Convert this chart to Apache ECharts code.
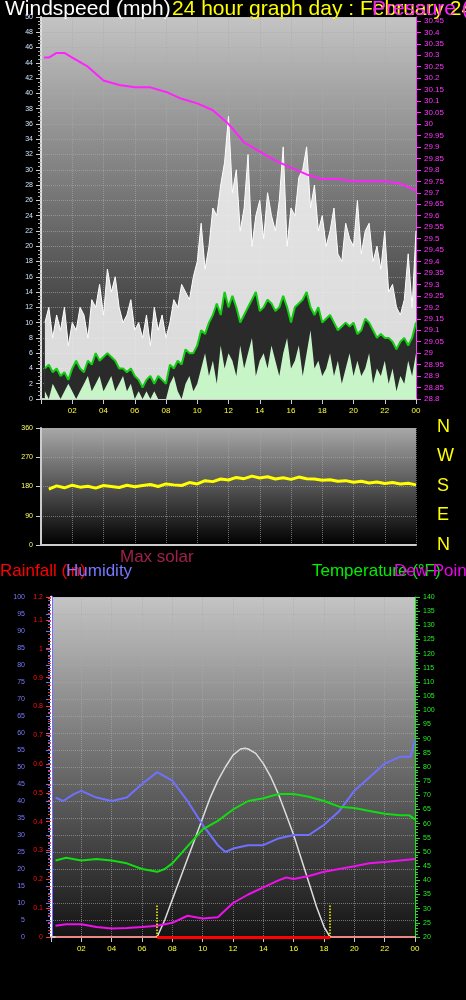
<!DOCTYPE html>
<html>
<head>
<meta charset="utf-8">
<script src="https://cdn.jsdelivr.net/npm/echarts@6/dist/echarts.min.js"></script>
<style>
  html, body { margin: 0; padding: 0; background: #000; }
  #main { width: 466px; height: 1000px; }
</style>
</head>
<body>
<div id="main"></div>
<script>
// wind, 15 minute steps from 00:15 to 24:00
const gust = [10,12,8,11,9,12,7,10, 9,12,11,8,13,12,15,11, 17,14,16,12,10,11,13,9,
  10,8,11,7,12,9,11,8, 10,13,12,15,14,13,16,18, 23,17,20,25,24,28,31,37,
  27,30,22,25,32,20,24,26, 21,27,24,22,26,33,20,25, 24,29,30,33,25,28,22,24,
  20,22,25,19,18,23,21,20, 26,19,22,23,18,20,17,22, 14,15,12,11,13,19,12,22];
const avgWind = [4,4.5,3.5,4,3,3.5,2.5,4, 5,4,3.5,5,4.5,6,5,5.5, 6,5.5,5,4,4,3.5,4,3,
  2.5,1.5,2.5,3,2,3,2.5,2, 4.5,4,5,4.5,6.5,6,6,7, 9,8.5,10,11,12.5,11,14,12,
  13.5,12,10,11,12,13,14,11.5, 12,13,12.5,11.5,12,13.5,12,10, 12,12.5,13,14,12,11,12,10,
  10.5,11,10,9,9.5,10,9.5,10, 8.5,9,10.5,10,9,8,8.5,8, 8,7.5,6.5,7.5,8,7,8,10];
const lowWind = [1,0,2,1,0,1,2,1, 0,1,2,3,1,2,3,1, 2,3,1,2,3,1,2,0,
  1,0,1,0,1,0,0,0, 2,3,1,0,2,3,1,2, 4,6,3,5,2,7,4,6,
  5,3,7,4,6,8,3,5, 6,4,7,5,3,6,8,4, 5,7,3,6,9,4,5,3,
  4,6,3,5,2,4,6,3, 5,3,4,6,2,4,3,5, 2,4,1,3,2,5,3,6];
const pressure = [[0.2,30.29],[0.5,30.29],[1,30.31],[1.5,30.31],[2,30.29],[3,30.25],[4,30.19],[5,30.17],
  [6,30.16],[7,30.16],[8,30.14],[9,30.11],[10,30.09],[11,30.06],[12,30.0],[13,29.92],[14,29.88],
  [15,29.84],[16,29.81],[17,29.78],[18,29.76],[19,29.76],[20,29.75],[21,29.75],[22,29.75],[23,29.74],[24,29.71]];
// wind direction, 30 minute steps from 00:30
const direction = [172,182,176,184,178,181,175,183,180,177,184,179,183,186,180,188,185,183,
  192,188,198,195,203,200,208,204,212,206,210,203,207,202,209,204,203,199,
  201,196,198,193,196,191,194,189,192,188,190,185];
// humidity / temperature / dew point
const humidity = [[0.3,41],[0.8,40],[1.5,42],[2,43],[3,41],[4,40],[5,41],[6,45],[7,48.5],[8,46],
  [9,40],[10,33],[11,27],[11.5,25],[12,26],[13,27],[14,27],[15,29],[16,30],[17,30],[18,33],
  [19,37],[20,43],[21,47],[22,51],[23,53],[23.7,53],[24,58]];
const temperature = [[0.3,47],[1,48],[2,47],[3,47.5],[4,47],[5,46],[6,44],[7,43],[7.5,44],[8,46],
  [9,52],[10,58],[11,61],[12,65],[13,68],[14,69],[15,70.5],[16,70.5],[17,69.5],[18,68],
  [19,66],[20,65.5],[21,64.5],[22,63.5],[23,63],[23.6,63],[24,61.5]];
const dewPoint = [[0.3,24],[1,24.5],[2,24.5],[3,23.5],[4,23],[5,23.2],[6,23.5],[7,24],[8,25],
  [9,27.5],[10,26.5],[11,27],[12,32],[13,35],[14,37.5],[15,40],[15.5,41],[16,40.5],[17,41.5],
  [18,43],[19,44],[20,45],[21,46],[22,46.5],[23,47],[24,47.5]];
const maxSolar = [[7,0],[7.5,5],[8,11],[8.5,17],[9,23],[9.5,29],[10,35],[10.5,41],[11,46],[11.5,50],
  [12,53.5],[12.5,55.3],[12.8,55.5],[13,55.3],[13.5,54],[14,51],[14.5,47],[15,42],[15.5,36],
  [16,30],[16.5,23],[17,16],[17.5,9],[18,3],[18.4,0]];
const rainfall = [[0.3,0],[24,0]];
const sunEvents = [7.0, 18.4];
const compass = ['N', 'W', 'S', 'E', 'N'];

const q = i => (i + 1) * 0.25;
const half = i => (i + 1) * 0.5;

const bg = (top, bottom) => new echarts.graphic.LinearGradient(0, 0, 0, 1, [
  { offset: 0, color: top }, { offset: 1, color: bottom }]);
const gridLine = { show: true, lineStyle: { color: '#aaa', type: 'dotted', opacity: 0.6 } };
const hourLabel = v => v === 0 ? '' : (v === 24 ? '00' : String(v).padStart(2, '0'));

const chart = echarts.init(document.getElementById('main'));
const font = 'Liberation Sans, Arial, sans-serif';

const xBase = (gi, showLabel) => ({
  type: 'value', gridIndex: gi, min: 0, max: 24, interval: 2,
  axisLine: { lineStyle: { color: '#ccc', width: 2 } },
  axisTick: { show: showLabel, lineStyle: { color: '#ccc' } },
  axisLabel: { show: showLabel, color: '#ffff33', fontSize: 8, formatter: hourLabel, fontFamily: font },
  splitLine: gridLine
});

const area = (data, color, lineColor, opacity) => ({
  type: 'line', xAxisIndex: 0, yAxisIndex: 0, symbol: 'none', data,
  lineStyle: { width: lineColor ? 1 : 0, color: lineColor || color },
  areaStyle: { color, opacity: opacity || 1 }
});

chart.setOption({
  backgroundColor: '#000',
  animation: false,
  grid: [
    { left: 41, width: 375, top: 17, height: 382, show: true, borderWidth: 0, backgroundColor: bg('#c4c4c4', '#1e1e1e') },
    { left: 41, width: 375, top: 428, height: 117, show: true, borderWidth: 0, backgroundColor: bg('#a8a8a8', '#000') },
    { left: 51, width: 364, top: 597, height: 340, show: true, borderWidth: 0, backgroundColor: bg('#c4c4c4', '#141414') }
  ],
  xAxis: [xBase(0, true), xBase(1, false), xBase(2, true)],
  yAxis: [
    { type: 'value', gridIndex: 0, min: 0, max: 50, interval: 2,
      axisLine: { show: true, lineStyle: { color: '#ddd', width: 2 } },
      axisTick: { show: true, lineStyle: { color: '#ccc' } }, minorTick: { show: true, splitNumber: 4, lineStyle: { color: '#aaa' } },
      axisLabel: { color: '#d0e4ff', fontSize: 7, fontFamily: font }, splitLine: gridLine },
    { type: 'value', gridIndex: 0, position: 'right', min: 28.8, max: 30.467, interval: 0.05,
      axisLine: { show: true, lineStyle: { color: '#ff33ff', width: 1 } },
      axisTick: { show: true, lineStyle: { color: '#ff33ff' } },
      axisLabel: { color: '#ff33ff', fontSize: 8, fontFamily: font, formatter: v => +v.toFixed(2) + '' },
      splitLine: { show: false } },
    { type: 'value', gridIndex: 1, min: 0, max: 360, interval: 90,
      axisLine: { show: true, lineStyle: { color: '#ccc', width: 2 } },
      axisTick: { show: true, lineStyle: { color: '#ccc' } },
      axisLabel: { color: '#ffff66', fontSize: 7, fontFamily: font }, splitLine: gridLine },
    { type: 'value', gridIndex: 2, position: 'left', min: 0, max: 100, interval: 5, offset: 21,
      axisLine: { show: true, lineStyle: { color: '#6f6fff', width: 3 } },
      axisTick: { show: true, lineStyle: { color: '#6f6fff' } }, minorTick: { show: true, splitNumber: 5, lineStyle: { color: '#6f6fff' } },
      axisLabel: { color: '#7a7aff', fontSize: 7, fontFamily: font, margin: 5 }, splitLine: gridLine },
    { type: 'value', gridIndex: 2, position: 'left', offset: 0, min: 0, max: 1.18, interval: 0.1,
      axisLine: { show: true, lineStyle: { color: '#fff', width: 2 } },
      axisTick: { show: true, lineStyle: { color: '#ff3333' } }, minorTick: { show: true, splitNumber: 4, lineStyle: { color: '#ff3333' } },
      axisLabel: { color: '#ff1111', fontSize: 7, fontFamily: font, formatter: v => v === 0 ? '0' : +v.toFixed(1) + '' },
      splitLine: { show: false } },
    { type: 'value', gridIndex: 2, position: 'right', min: 20, max: 140, interval: 5,
      axisLine: { show: true, lineStyle: { color: '#22dd22', width: 1 } },
      axisTick: { show: true, lineStyle: { color: '#22dd22' } }, minorTick: { show: true, splitNumber: 5, lineStyle: { color: '#22dd22' } },
      axisLabel: { color: '#22ee22', fontSize: 7, fontFamily: font }, splitLine: { show: false } }
  ],
  series: [
    area(gust.map((v, i) => [q(i), v]), '#eeeeee', '#ffffff', 0.9),
    area(avgWind.map((v, i) => [q(i), v]), '#0a0a0a', null, 0.85),
    area(lowWind.map((v, i) => [q(i), v]), '#c8f5c8'),
    { type: 'line', xAxisIndex: 0, yAxisIndex: 0, symbol: 'none', data: avgWind.map((v, i) => [q(i), v]),
      lineStyle: { width: 2, color: '#11cc11' } },
    { type: 'line', xAxisIndex: 0, yAxisIndex: 1, symbol: 'none', data: pressure,
      lineStyle: { width: 2, color: '#ff22ff' } },
    { type: 'line', xAxisIndex: 1, yAxisIndex: 2, symbol: 'none', data: direction.map((v, i) => [half(i), v]),
      lineStyle: { width: 3, color: '#ffff00' } },
    { type: 'line', xAxisIndex: 2, yAxisIndex: 3, symbol: 'none', data: maxSolar,
      lineStyle: { width: 1.5, color: '#dddddd' } },
    { type: 'line', xAxisIndex: 2, yAxisIndex: 3, symbol: 'none', data: humidity,
      lineStyle: { width: 2, color: '#7070ff' },
      markLine: { symbol: 'none', silent: true, label: { show: false },
        lineStyle: { color: '#ffff00', type: 'dotted', width: 1.5 },
        data: sunEvents.map(h => [{ coord: [h, 0] }, { coord: [h, 9.5] }]) } },
    { type: 'line', xAxisIndex: 2, yAxisIndex: 5, symbol: 'none', data: temperature,
      lineStyle: { width: 2, color: '#11dd11' } },
    { type: 'line', xAxisIndex: 2, yAxisIndex: 5, symbol: 'none', data: dewPoint,
      lineStyle: { width: 2, color: '#ee11ee' } },
    { type: 'line', xAxisIndex: 2, yAxisIndex: 4, symbol: 'none', data: rainfall,
      lineStyle: { width: 2, color: '#e88888' },
      markLine: { symbol: 'none', silent: true, label: { show: false },
        lineStyle: { color: '#ff0000', type: 'solid', width: 3 },
        data: [[{ coord: [sunEvents[0], 0] }, { coord: [sunEvents[1], 0] }]] } }
  ],
  graphic: [
    { type: 'text', left: 5, top: -1, style: { text: 'Windspeed (mph)', fill: '#fff', font: '21px ' + font } },
    { type: 'text', left: 172, top: -1, style: { text: '24 hour graph day : February 24 2013', fill: '#ffff00', font: '21px ' + font } },
    { type: 'text', left: 372, top: -1, style: { text: 'Pressure (in)', fill: '#ff22ff', font: '21px ' + font } },
    ...compass.map((c, i) => ({ type: 'text', left: 437, top: 418 + i * 29.5,
      style: { text: c, fill: '#ffff00', font: '18px ' + font } })),
    { type: 'text', left: 120, top: 549, style: { text: 'Max solar', fill: '#a0204a', font: '17px ' + font } },
    { type: 'text', left: 0, top: 563, style: { text: 'Rainfall (in)', fill: '#ff0000', font: '17px ' + font } },
    { type: 'text', left: 66, top: 563, style: { text: 'Humidity', fill: '#7777ff', font: '17px ' + font } },
    { type: 'text', left: 312, top: 563, style: { text: 'Temperature (°F)', fill: '#00ee00', font: '17px ' + font } },
    { type: 'text', left: 394, top: 563, style: { text: 'Dew Point', fill: '#ee00ee', font: '17px ' + font } }
  ]
});
</script>
</body>
</html>
